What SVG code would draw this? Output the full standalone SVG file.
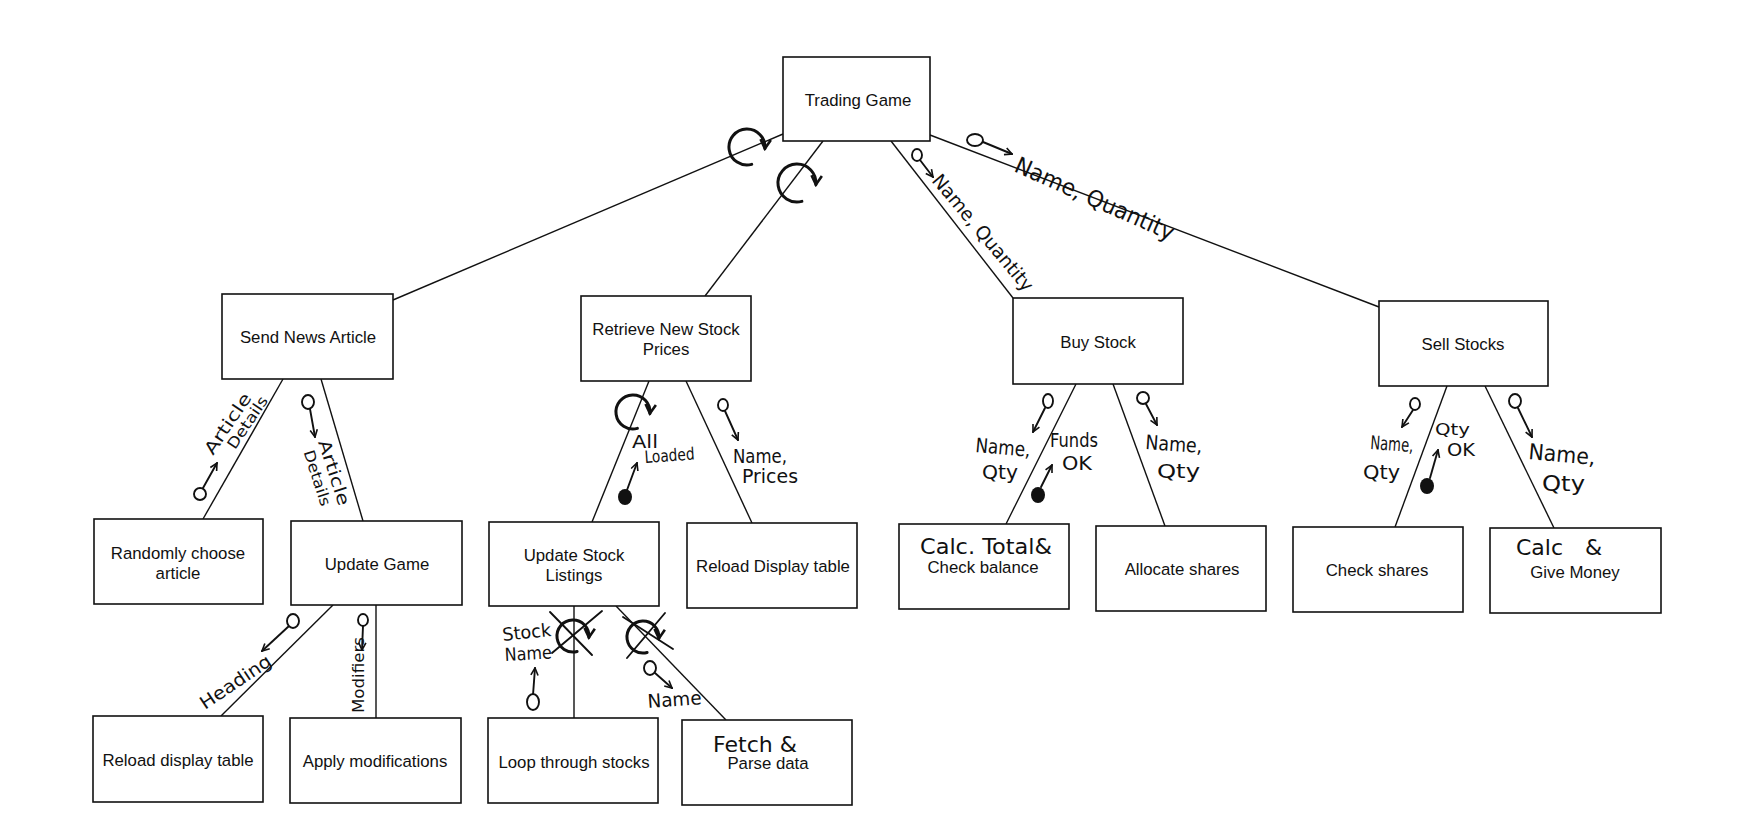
<svg xmlns="http://www.w3.org/2000/svg" width="1753" height="833" viewBox="0 0 1753 833">
<style>
.box{fill:#fff;stroke:#111;stroke-width:1.6}
.lbl{font-family:"Liberation Sans",Arial,sans-serif;font-size:16.8px;fill:#111;text-anchor:middle}
.con{stroke:#111;stroke-width:1.4;fill:none}
.hw{font-family:"DejaVu Sans","Liberation Sans",sans-serif;fill:#111}
.pen{stroke:#111;stroke-width:1.9;fill:none;stroke-linecap:round}
.loop{stroke:#111;stroke-width:3;fill:none;stroke-linecap:round}
.dot{fill:#111}
.ring{fill:#fff;stroke:#111;stroke-width:1.9}
</style>
<defs>
<marker id="v" viewBox="0 0 10 10" refX="9" refY="5" markerWidth="9" markerHeight="9" markerUnits="userSpaceOnUse" orient="auto">
<path d="M1,1 L9,5 L1,9" fill="none" stroke="#111" stroke-width="1.8"/>
</marker>
<marker id="lv" viewBox="0 0 10 10" refX="8" refY="5" markerWidth="13" markerHeight="13" markerUnits="userSpaceOnUse" orient="auto">
<path d="M1,1 L8,5 L1,9" fill="none" stroke="#111" stroke-width="2"/>
</marker>
</defs>
<rect width="1753" height="833" fill="#fff"/>

<g id="connectors">
<line class="con" x1="783" y1="134" x2="393" y2="300"/>
<line class="con" x1="823" y1="141" x2="705" y2="296"/>
<line class="con" x1="891" y1="141" x2="1013" y2="298"/>
<line class="con" x1="930" y1="135" x2="1379" y2="307"/>
<line class="con" x1="283" y1="379" x2="203" y2="519"/>
<line class="con" x1="321" y1="379" x2="363" y2="521"/>
<line class="con" x1="333" y1="605" x2="221" y2="716"/>
<line class="con" x1="376" y1="605" x2="376" y2="718"/>
<line class="con" x1="649" y1="381" x2="592" y2="522"/>
<line class="con" x1="686" y1="381" x2="752" y2="523"/>
<line class="con" x1="574" y1="606" x2="574" y2="718"/>
<line class="con" x1="616" y1="606" x2="726" y2="720"/>
<line class="con" x1="1076" y1="384" x2="1006" y2="524"/>
<line class="con" x1="1113" y1="384" x2="1165" y2="526"/>
<line class="con" x1="1447" y1="386" x2="1395" y2="527"/>
<line class="con" x1="1485" y1="386" x2="1554" y2="528"/>
</g>

<g id="annotations">
<path class="loop" d="M751.7,164.4 A18 18 0 1 1 764.9,148.6" marker-end="url(#lv)"/>
<path class="loop" d="M801.9,201.4 A19 19 0 1 1 815.9,184.7" marker-end="url(#lv)"/>
<path class="loop" d="M637.4,428.4 A17 17 0 1 1 649.9,413.5" marker-end="url(#lv)"/>
<path class="loop" d="M577.1,651.5 A16 16 0 1 1 588.9,637.4" marker-end="url(#lv)"/>
<path class="loop" d="M647.1,652.5 A16 16 0 1 1 658.9,638.4" marker-end="url(#lv)"/>
<line class="pen" x1="550" y1="612" x2="592" y2="655"/>
<line class="pen" x1="602" y1="611" x2="552" y2="653"/>
<line class="pen" x1="623" y1="617" x2="673" y2="649"/>
<line class="pen" x1="665" y1="613" x2="627" y2="658"/>

<line class="pen" x1="920" y1="160" x2="933" y2="177" marker-end="url(#v)"/>
<ellipse class="ring" cx="917" cy="155" rx="5" ry="6"/>
<line class="pen" x1="983" y1="142" x2="1012" y2="154" marker-end="url(#v)"/>
<ellipse class="ring" cx="975" cy="140" rx="8" ry="6"/>
<line class="pen" x1="203" y1="488" x2="217" y2="463" marker-end="url(#v)"/>
<circle class="ring" cx="200" cy="494" r="6"/>
<line class="pen" x1="310" y1="409" x2="315" y2="437" marker-end="url(#v)"/>
<ellipse class="ring" cx="308" cy="402" rx="6" ry="7"/>
<line class="pen" x1="289" y1="626" x2="262" y2="651" marker-end="url(#v)"/>
<ellipse class="ring" cx="293" cy="621" rx="6" ry="7"/>
<line class="pen" x1="363" y1="626" x2="362" y2="650" marker-end="url(#v)"/>
<ellipse class="ring" cx="363" cy="620" rx="5" ry="6"/>
<line class="pen" x1="627" y1="490" x2="637" y2="463" marker-end="url(#v)"/>
<ellipse class="dot" cx="625" cy="497" rx="7" ry="8"/>
<line class="pen" x1="725" y1="411" x2="738" y2="440" marker-end="url(#v)"/>
<ellipse class="ring" cx="723" cy="405" rx="5" ry="6"/>
<line class="pen" x1="1045" y1="408" x2="1033" y2="432" marker-end="url(#v)"/>
<ellipse class="ring" cx="1048" cy="401" rx="5" ry="7"/>
<line class="pen" x1="1041" y1="487" x2="1052" y2="465" marker-end="url(#v)"/>
<ellipse class="dot" cx="1038" cy="495" rx="7" ry="8"/>
<line class="pen" x1="1146" y1="404" x2="1157" y2="425" marker-end="url(#v)"/>
<ellipse class="ring" cx="1143" cy="398" rx="6" ry="6"/>
<line class="pen" x1="1413" y1="410" x2="1402" y2="427" marker-end="url(#v)"/>
<ellipse class="ring" cx="1415" cy="404" rx="5" ry="6"/>
<line class="pen" x1="1430" y1="478" x2="1438" y2="450" marker-end="url(#v)"/>
<ellipse class="dot" cx="1427" cy="486" rx="7" ry="8"/>
<line class="pen" x1="1518" y1="408" x2="1532" y2="437" marker-end="url(#v)"/>
<ellipse class="ring" cx="1515" cy="401" rx="6" ry="7"/>
<line class="pen" x1="533" y1="695" x2="535" y2="668" marker-end="url(#v)"/>
<ellipse class="ring" cx="533" cy="702" rx="6" ry="8"/>
<line class="pen" x1="655" y1="673" x2="672" y2="688" marker-end="url(#v)"/>
<ellipse class="ring" cx="650" cy="668" rx="6" ry="7"/>

<text class="hw" font-size="19" transform="translate(931,181) rotate(50)" textLength="146" lengthAdjust="spacingAndGlyphs">Name, Quantity</text>
<text class="hw" font-size="23" transform="translate(1013,171) rotate(24)" textLength="172" lengthAdjust="spacingAndGlyphs">Name, Quantity</text>
<g transform="translate(213,456) rotate(-56)">
<text class="hw" font-size="17" x="0" y="0" textLength="70" lengthAdjust="spacingAndGlyphs">Article</text>
<text class="hw" font-size="15" x="17" y="15" textLength="60" lengthAdjust="spacingAndGlyphs">Details</text>
</g>
<g transform="translate(318,442) rotate(72)">
<text class="hw" font-size="17" x="0" y="0" textLength="68" lengthAdjust="spacingAndGlyphs">Article</text>
<text class="hw" font-size="15" x="5" y="17" textLength="58" lengthAdjust="spacingAndGlyphs">Details</text>
</g>
<text class="hw" font-size="18" transform="translate(205,710) rotate(-34)" textLength="82" lengthAdjust="spacingAndGlyphs">Heading</text>
<text class="hw" font-size="16" transform="translate(364,713) rotate(-90)" textLength="76" lengthAdjust="spacingAndGlyphs">Modifiers</text>
<text class="hw" font-size="17" x="632" y="448" textLength="26" lengthAdjust="spacingAndGlyphs">All</text>
<text class="hw" font-size="17" transform="translate(645,463) rotate(-4)" textLength="50" lengthAdjust="spacingAndGlyphs">Loaded</text>
<text class="hw" font-size="19" x="733" y="463" textLength="54" lengthAdjust="spacingAndGlyphs">Name,</text>
<text class="hw" font-size="19" x="742" y="483" textLength="56" lengthAdjust="spacingAndGlyphs">Prices</text>
<text class="hw" font-size="20" transform="translate(975,452) rotate(5)" textLength="55" lengthAdjust="spacingAndGlyphs">Name,</text>
<text class="hw" font-size="20" x="982" y="479" textLength="36" lengthAdjust="spacingAndGlyphs">Qty</text>
<text class="hw" font-size="19" x="1050" y="447" textLength="48" lengthAdjust="spacingAndGlyphs">Funds</text>
<text class="hw" font-size="20" x="1062" y="470" textLength="30" lengthAdjust="spacingAndGlyphs">OK</text>
<text class="hw" font-size="20" transform="translate(1145,449) rotate(4)" textLength="57" lengthAdjust="spacingAndGlyphs">Name,</text>
<text class="hw" font-size="20" x="1157" y="478" textLength="43" lengthAdjust="spacingAndGlyphs">Qty</text>
<text class="hw" font-size="19" transform="translate(1370,449) rotate(4)" textLength="43" lengthAdjust="spacingAndGlyphs">Name,</text>
<text class="hw" font-size="20" x="1363" y="479" textLength="37" lengthAdjust="spacingAndGlyphs">Qty</text>
<text class="hw" font-size="16" x="1435" y="435" textLength="35" lengthAdjust="spacingAndGlyphs">Qty</text>
<text class="hw" font-size="18" x="1447" y="456" textLength="28" lengthAdjust="spacingAndGlyphs">OK</text>
<text class="hw" font-size="22" transform="translate(1528,459) rotate(5)" textLength="67" lengthAdjust="spacingAndGlyphs">Name,</text>
<text class="hw" font-size="22" x="1542" y="491" textLength="43" lengthAdjust="spacingAndGlyphs">Qty</text>
<text class="hw" font-size="18" transform="translate(503,641) rotate(-6)" textLength="49" lengthAdjust="spacingAndGlyphs">Stock</text>
<text class="hw" font-size="18" transform="translate(505,661) rotate(-3)" textLength="47" lengthAdjust="spacingAndGlyphs">Name</text>
<text class="hw" font-size="19" transform="translate(648,708) rotate(-4)" textLength="54" lengthAdjust="spacingAndGlyphs">Name</text>
</g>

<g id="trading-game"><rect class="box" x="783" y="57" width="147" height="84"/><text class="lbl" x="858" y="106">Trading Game</text></g>
<g id="send-news-article"><rect class="box" x="222" y="294" width="171" height="85"/><text class="lbl" x="308" y="343">Send News Article</text></g>
<g id="retrieve-new-stock-prices"><rect class="box" x="581" y="296" width="170" height="85"/><text class="lbl" x="666" y="335">Retrieve New Stock</text><text class="lbl" x="666" y="355">Prices</text></g>
<g id="buy-stock"><rect class="box" x="1013" y="298" width="170" height="86"/><text class="lbl" x="1098" y="348">Buy Stock</text></g>
<g id="sell-stocks"><rect class="box" x="1379" y="301" width="169" height="85"/><text class="lbl" x="1463" y="350">Sell Stocks</text></g>
<g id="randomly-choose-article"><rect class="box" x="94" y="519" width="169" height="85"/><text class="lbl" x="178" y="559">Randomly choose</text><text class="lbl" x="178" y="579">article</text></g>
<g id="update-game"><rect class="box" x="291" y="521" width="171" height="84"/><text class="lbl" x="377" y="570">Update Game</text></g>
<g id="update-stock-listings"><rect class="box" x="489" y="522" width="170" height="84"/><text class="lbl" x="574" y="561">Update Stock</text><text class="lbl" x="574" y="581">Listings</text></g>
<g id="reload-display-table-1"><rect class="box" x="687" y="523" width="170" height="85"/><text class="lbl" x="773" y="572">Reload Display table</text></g>
<g id="check-balance"><rect class="box" x="899" y="524" width="170" height="85"/><text class="hw" font-size="22" x="920" y="554" textLength="132" lengthAdjust="spacingAndGlyphs">Calc. Total&amp;</text><text class="lbl" x="983" y="573">Check balance</text></g>
<g id="allocate-shares"><rect class="box" x="1096" y="526" width="170" height="85"/><text class="lbl" x="1182" y="575">Allocate shares</text></g>
<g id="check-shares"><rect class="box" x="1293" y="527" width="170" height="85"/><text class="lbl" x="1377" y="576">Check shares</text></g>
<g id="give-money"><rect class="box" x="1490" y="528" width="171" height="85"/><text class="hw" font-size="22" x="1516" y="555">Calc<tspan x="1585">&amp;</tspan></text><text class="lbl" x="1575" y="578">Give Money</text></g>
<g id="reload-display-table-2"><rect class="box" x="93" y="716" width="170" height="86"/><text class="lbl" x="178" y="766">Reload display table</text></g>
<g id="apply-modifications"><rect class="box" x="290" y="718" width="171" height="85"/><text class="lbl" x="375" y="767">Apply modifications</text></g>
<g id="loop-through-stocks"><rect class="box" x="488" y="718" width="170" height="85"/><text class="lbl" x="574" y="768">Loop through stocks</text></g>
<g id="fetch-parse-data"><rect class="box" x="682" y="720" width="170" height="85"/><text class="hw" font-size="22" x="713" y="752" textLength="84" lengthAdjust="spacingAndGlyphs">Fetch &amp;</text><text class="lbl" x="768" y="769">Parse data</text></g>
</svg>
